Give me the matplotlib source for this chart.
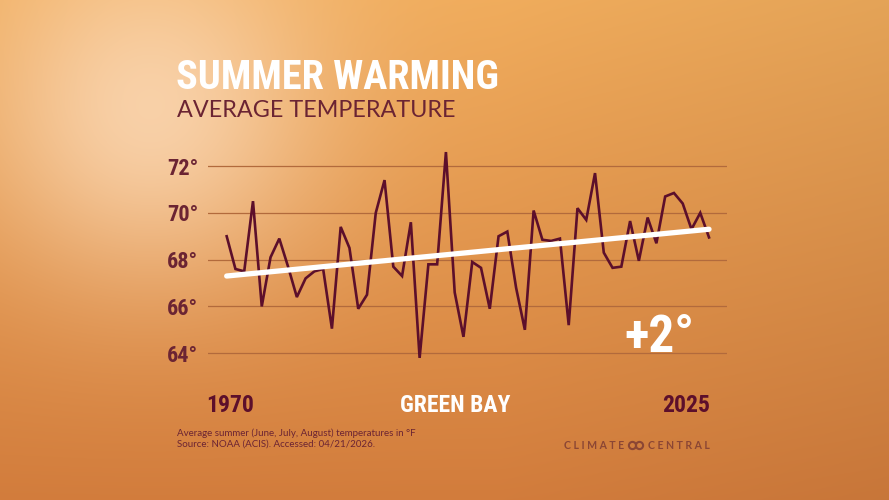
import matplotlib
matplotlib.use('Agg')
import matplotlib.pyplot as plt
import numpy as np
from matplotlib.patches import Circle

# Green Bay average summer temperature (F)
years = list(range(1970, 2026))
temps = [69.0, 67.6, 67.5, 70.5, 66.0, 68.1, 68.9, 67.7, 66.4, 67.2,
         67.5, 67.6, 65.05, 69.4, 68.5, 65.9, 66.5, 70.0, 71.4, 67.7,
         67.3, 69.6, 63.8, 67.8, 67.8, 72.6, 66.6, 64.7, 67.9, 67.65,
         65.9, 69.0, 69.2, 66.8, 65.0, 70.1, 68.85, 68.8, 68.9, 65.2,
         70.2, 69.7, 71.7, 68.3, 67.65, 67.7, 69.65, 67.95, 69.8, 68.7,
         70.7, 70.85, 70.4, 69.3, 70.0, 68.95]
trend_years = [1970, 2025]
trend_temps = [67.3, 69.3]
y_ticks = [64, 66, 68, 70, 72]
y_tick_labels = ['64°', '66°', '68°', '70°', '72°']

MAROON = '#5c0f2b'
LABEL = '#6b2433'
COND = ['Liberation Sans Narrow', 'Roboto Condensed', 'DejaVu Sans']
SANS = ['Lato', 'DejaVu Sans']

fig = plt.figure(figsize=(8.89, 5), dpi=100)

# background glow
bg = fig.add_axes([0, 0, 1, 1])
yy, xx = np.mgrid[0:500, 0:889]
t = (yy / 500.0)[..., None]
top = np.array([240, 172, 92]) / 255
bottom = np.array([210, 124, 60]) / 255
base = top * (1 - t) + bottom * t
right = np.clip((xx - 500) / 389.0, 0, 1)[..., None]
base = base * (1 - 0.05 * right)
d = np.sqrt((xx - 150) ** 2 + (yy - 110) ** 2)
w = (0.8 * np.exp(-(d / 170.0) ** 2))[..., None]
glow = np.array([252, 220, 188]) / 255
img = base * (1 - w) + glow * w
bg.imshow(img, extent=[0, 889, 500, 0], aspect='auto')
bg.set_xlim(0, 889)
bg.set_ylim(500, 0)
bg.axis('off')

# main chart
ax = fig.add_axes([208 / 889, 1 - 360 / 500, 519 / 889, 200 / 500])
ax.patch.set_alpha(0)
for yv in y_ticks:
    ax.axhline(yv, color='#b26a3c', lw=0.9, zorder=1)
ax.plot(years, temps, color=MAROON, lw=1.9, solid_joinstyle='miter', zorder=3, clip_on=False)
ax.plot(trend_years, trend_temps, color='white', lw=3.8, solid_capstyle='round', zorder=4)
ax.set_xlim(1967.87, 2027.05)
ax.set_ylim(63.71, 72.26)
ax.set_yticks(y_ticks)
ax.set_yticklabels(y_tick_labels, family=COND, fontweight='bold', fontsize=16, color=LABEL)
ax.tick_params(axis='y', length=0, pad=7)
ax.set_xticks([])
for s in ax.spines.values():
    s.set_visible(False)

ax.text(2019.4, 64.05, '+2°', family=COND, fontweight='bold', fontsize=37, color='white',
        ha='center', va='baseline')

# titles
fig.text(176 / 889, 1 - 89 / 500, 'SUMMER WARMING', family=COND, fontweight='bold',
         fontsize=29, color='white', va='baseline')
fig.text(177 / 889, 1 - 117 / 500, 'AVERAGE TEMPERATURE', family=SANS,
         fontsize=16.8, color=LABEL, va='baseline')

# bottom labels
fig.text(230 / 889, 1 - 412 / 500, '1970', family=COND, fontweight='bold', fontsize=17,
         color=MAROON, ha='center', va='baseline')
fig.text(455 / 889, 1 - 412 / 500, 'GREEN BAY', family=COND, fontweight='bold', fontsize=17,
         color='white', ha='center', va='baseline')
fig.text(686 / 889, 1 - 412 / 500, '2025', family=COND, fontweight='bold', fontsize=17,
         color=MAROON, ha='center', va='baseline')

fig.text(177 / 889, 1 - 436 / 500, 'Average summer (June, July, August) temperatures in °F',
         family=SANS, fontsize=7, color=LABEL, va='baseline')
fig.text(177 / 889, 1 - 447 / 500, 'Source: NOAA (ACIS). Accessed: 04/21/2026.',
         family=SANS, fontsize=7, color=LABEL, va='baseline')

# logo
LOGO = '#8b4634'
fig.text(624 / 889, 1 - 449 / 500, 'C L I M A T E', family=SANS,
         fontweight='bold', fontsize=7.6, color=LOGO, ha='right', va='baseline')
fig.text(710 / 889, 1 - 449 / 500, 'C E N T R A L', family=SANS,
         fontweight='bold', fontsize=7.6, color=LOGO, ha='right', va='baseline')
bg.add_patch(Circle((632.5, 445.5), 3.6, fill=False, ec=LOGO, lw=1.5))
bg.add_patch(Circle((639.5, 445.5), 3.6, fill=False, ec=LOGO, lw=1.5))

fig.savefig('out.png', dpi=100)
